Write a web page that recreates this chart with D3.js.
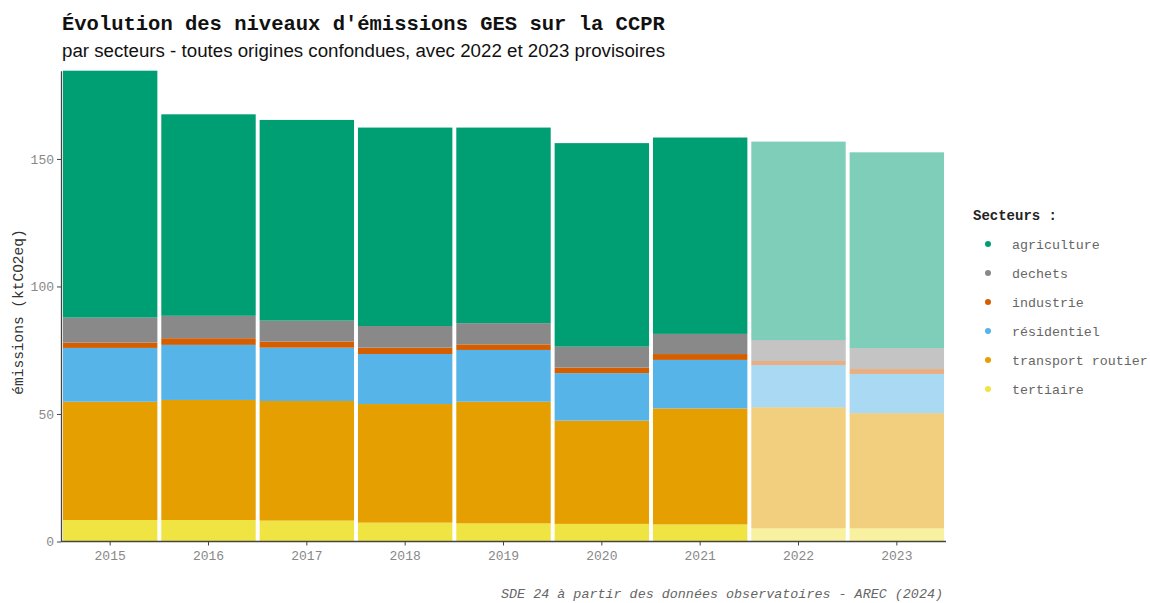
<!DOCTYPE html>
<html><head><meta charset="utf-8">
<script src="https://cdn.jsdelivr.net/npm/d3@7"></script>
<style>body{margin:0;background:#fff}svg{display:block}</style>
</head><body><svg id="c" width="1150" height="603"></svg>
<script>
const years = ["2015","2016","2017","2018","2019","2020","2021","2022","2023"];
const provisional = ["2022","2023"];
const sectors = ["agriculture","dechets","industrie","résidentiel","transport routier","tertiaire"];
const sectorColors = ["#009E73","#898989","#D55E00","#56B4E9","#E69F00","#F0E442"];
const agriculture = [96.8,79.0,78.7,77.8,76.7,79.8,77.0,77.8,76.8];
const dechets = [9.8,8.8,8.2,8.5,8.3,8.2,7.9,8.2,8.2];
const industrie = [2.1,2.6,2.4,2.5,2.2,2.2,2.3,1.6,1.9];
const residentiel = [21.1,21.6,20.9,19.6,20.3,18.6,19.0,16.6,15.4];
const transport = [46.4,47.1,46.9,46.5,47.7,40.5,45.5,47.4,45.1];
const tertiaire = [8.4,8.4,8.2,7.4,7.1,6.9,6.7,5.2,5.2];
const yTicks = [0,50,100,150];

const seriesBySector = {"agriculture":agriculture,"dechets":dechets,"industrie":industrie,
  "résidentiel":residentiel,"transport routier":transport,"tertiaire":tertiaire};
const stackOrder = ["tertiaire","transport routier","résidentiel","industrie","dechets","agriculture"];
const rows = years.map((yr,i)=>{const r={year:yr};sectors.forEach(s=>r[s]=seriesBySector[s][i]);return r;});
const stacked = d3.stack().keys(stackOrder)(rows);
const color = d3.scaleOrdinal().domain(sectors).range(sectorColors);

const svg = d3.select("#c");
const pLeft=61,pRight=946,pTop=70.7,pBottom=541.5;
const x = d3.scaleBand().domain(years).range([pLeft,pRight]).paddingInner(0.04).paddingOuter(0.02);
const ymax = d3.max(rows,r=>d3.sum(sectors,s=>r[s]));
const y = d3.scaleLinear().domain([0,ymax]).range([pBottom,pTop]);

svg.append("g").selectAll("g").data(stacked).join("g")
  .attr("fill",d=>color(d.key))
  .selectAll("rect").data(d=>d).join("rect")
  .attr("x",d=>x(d.data.year)).attr("width",x.bandwidth())
  .attr("y",d=>y(d[1])).attr("height",d=>y(d[0])-y(d[1]))
  .attr("fill-opacity",d=>provisional.includes(d.data.year)?0.5:1);

const mono = "'Liberation Mono','DejaVu Sans Mono',monospace";
// axes
const ya = svg.append("g").attr("transform",`translate(${pLeft},0)`)
  .call(d3.axisLeft(y).tickValues(yTicks).tickSize(4).tickPadding(3).tickSizeOuter(0));
ya.select(".domain").attr("stroke","#444").attr("stroke-width",1.3);
ya.selectAll(".tick line").attr("stroke","#444");
ya.selectAll(".tick text").attr("fill","#888").style("font-family",mono).style("font-size","13px");
const xa = svg.append("g").attr("transform",`translate(0,${pBottom})`)
  .call(d3.axisBottom(x).tickSize(4).tickPadding(5).tickSizeOuter(0));
xa.select(".domain").attr("stroke","#444").attr("stroke-width",1.3).attr("d",`M${pLeft},0H${pRight}`);
xa.selectAll(".tick line").attr("stroke","#444");
xa.selectAll(".tick text").attr("fill","#888").style("font-family",mono).style("font-size","13px");

// titles
svg.append("text").attr("x",62).attr("y",30).text("Évolution des niveaux d'émissions GES sur la CCPR")
  .style("font-family",mono).style("font-weight","bold").style("font-size","20.5px").attr("fill","#111");
svg.append("text").attr("x",62).attr("y",57).text("par secteurs - toutes origines confondues, avec 2022 et 2023 provisoires")
  .attr("textLength",603).attr("lengthAdjust","spacingAndGlyphs")
  .style("font-family","'Liberation Sans',Arial,sans-serif").style("font-size","18px").attr("fill","#111");
svg.append("text").attr("transform",`translate(23,312) rotate(-90)`).attr("text-anchor","middle")
  .text("émissions (ktCO2eq)").style("font-family",mono).style("font-size","14.5px").attr("fill","#333");
svg.append("text").attr("x",943).attr("y",598).attr("text-anchor","end")
  .text("SDE 24 à partir des données observatoires - AREC (2024)")
  .style("font-family",mono).style("font-style","italic").style("font-size","13.4px").attr("fill","#666");

// legend
const lg = svg.append("g");
lg.append("text").attr("x",973).attr("y",220).text("Secteurs :").style("font-family",mono)
  .style("font-weight","bold").style("font-size","14px").attr("fill","#222");
const items = lg.selectAll("g.it").data(sectors).join("g").attr("class","it")
  .attr("transform",(d,i)=>`translate(0,${244+i*29})`);
items.append("circle").attr("cx",988).attr("cy",0).attr("r",3).attr("fill",d=>color(d));
items.append("text").attr("x",1012).attr("y",4.5).text(d=>d).style("font-family",mono)
  .style("font-size","13.3px").attr("fill","#666");
</script></body></html>
